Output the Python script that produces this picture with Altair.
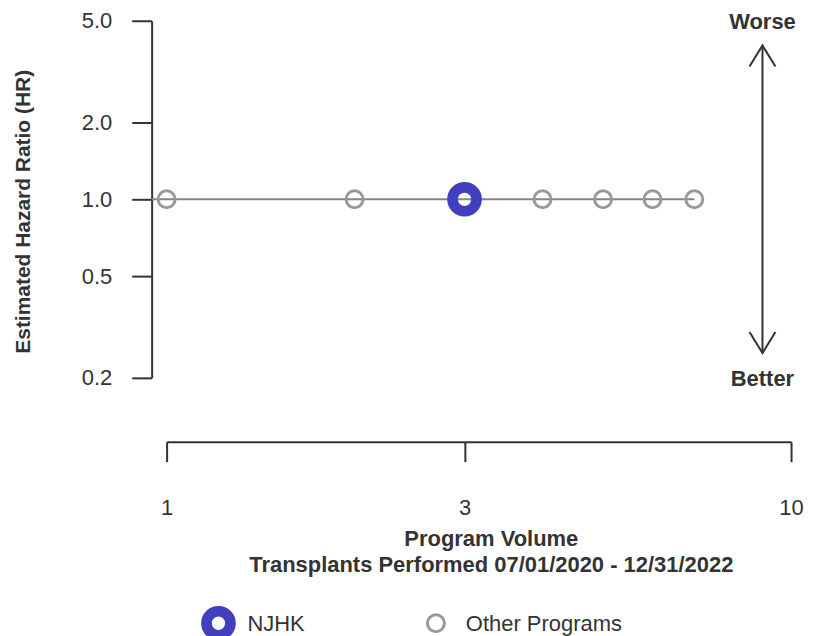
import altair as alt
import pandas as pd

# ---- data ----
other_volume = [1, 2, 4, 5, 6, 7]
other_hr = [1.0, 1.0, 1.0, 1.0, 1.0, 1.0]
njhk_volume = [3]
njhk_hr = [1.0]
program_names = ["NJHK", "Other Programs"]
y_ticks = [0.2, 0.5, 1.0, 2.0, 5.0]
x_ticks = [1, 3, 10]
ref_line_volume = [0.9463, 7]
ref_line_hr = [1.0, 1.0]
arrow_volume = [9]
arrow_hr_top = [4.0]
arrow_hr_bottom = [0.25]
note_text = ["Worse", "Better"]
note_hr = [5.0, 0.2]
note_volume = [9, 9]

BLUE = "#3F3FBF"
GRAY = "#999999"
LINE = "#858585"
DARK = "#333333"
FONT = "Liberation Sans"
FS = 22
SIZES = [576, 289]
STROKES = [10.7, 3]

points = pd.DataFrame({
    "volume": other_volume + njhk_volume,
    "hr": other_hr + njhk_hr,
    "program": ["Other Programs"] * len(other_volume) + ["NJHK"] * len(njhk_volume),
    "order": [0] * len(other_volume) + [1] * len(njhk_volume),
})
line_df = pd.DataFrame({"volume": ref_line_volume, "hr": ref_line_hr})
arrow_df = pd.DataFrame({"volume": arrow_volume, "lo": arrow_hr_bottom, "hi": arrow_hr_top})
notes_df = pd.DataFrame({"volume": note_volume, "hr": note_hr, "text": note_text})

xscale = alt.Scale(type="log", domain=[1, 10], nice=False)
yscale = alt.Scale(type="log", domain=[0.2, 5], nice=False)

common_axis = dict(
    grid=False, domainColor=DARK, tickColor=DARK, domainWidth=2, tickWidth=2,
    labelColor=DARK, titleColor=DARK, labelFont=FONT, titleFont=FONT,
    labelFontSize=FS, titleFontWeight="bold",
    tickSize=20, labelFlush=False, labelOverlap=False,
)
x_axis = alt.Axis(
    values=x_ticks, format="d",
    title=["Program Volume", "Transplants Performed 07/01/2020 - 12/31/2022"],
    offset=64, labelPadding=46, labelBaseline="middle", titleFontSize=FS,
    titleX=325, titleY=87, titleBaseline="top", titleAlign="center", titleLineHeight=26,
    **common_axis,
)
y_axis = alt.Axis(
    values=y_ticks, format=".1f", title="Estimated Hazard Ratio (HR)",
    offset=15, labelPadding=20, titleFontSize=21,
    titleX=-128, titleY=191, titleAngle=-90, titleBaseline="middle", titleAlign="center",
    **common_axis,
)

X = alt.X("volume:Q", scale=xscale, axis=x_axis)
Y = alt.Y("hr:Q", scale=yscale, axis=y_axis)

ref_line = alt.Chart(line_df).mark_line(color=LINE, strokeWidth=2, clip=False).encode(x=X, y=Y)

pts = alt.Chart(points).mark_point(filled=False, opacity=1, clip=False).encode(
    x=X, y=Y,
    color=alt.Color("program:N", scale=alt.Scale(domain=program_names, range=[BLUE, GRAY]), legend=None),
    size=alt.Size("program:N", scale=alt.Scale(domain=program_names, range=SIZES), legend=None),
    strokeWidth=alt.StrokeWidth("program:N", scale=alt.Scale(domain=program_names, range=STROKES), legend=None),
    order=alt.Order("order:Q"),
)

shaft = alt.Chart(arrow_df).mark_rule(color=DARK, strokeWidth=2).encode(
    x=X, y=alt.Y("lo:Q", scale=yscale, axis=y_axis), y2="hi:Q"
)
head_up = alt.Chart(arrow_df).mark_point(
    shape="M-1,1.62L0,0L1,1.62", size=676, filled=False, color=DARK, strokeWidth=2, opacity=1
).encode(x=X, y=alt.Y("hi:Q", scale=yscale, axis=y_axis))
head_down = alt.Chart(arrow_df).mark_point(
    shape="M-1,-1.62L0,0L1,-1.62", size=676, filled=False, color=DARK, strokeWidth=2, opacity=1
).encode(x=X, y=alt.Y("lo:Q", scale=yscale, axis=y_axis))

notes = alt.Chart(notes_df).mark_text(
    font=FONT, fontSize=FS, fontWeight="bold", color=DARK, align="center", baseline="middle", dy=1
).encode(x=X, y=Y, text="text:N")

# ---- legend (drawn as a key below the x axis) ----
legend_df = pd.DataFrame({"program": program_names})
LEG_Y = 604
leg_layers = []
for name, color, size, sw, sx, tx in zip(program_names, [BLUE, GRAY], SIZES, STROKES, [52, 270], [81, 300]):
    one = alt.Chart(legend_df).transform_filter(alt.datum.program == name)
    leg_layers.append(
        one.mark_point(filled=False, opacity=1, color=color, size=size, strokeWidth=sw, clip=False).encode(
            x=alt.value(sx), y=alt.value(LEG_Y)
        )
    )
    leg_layers.append(
        one.mark_text(font=FONT, fontSize=FS, color=DARK, align="left", baseline="middle", dy=1, clip=False).encode(
            x=alt.value(tx), y=alt.value(LEG_Y), text="program:N"
        )
    )

chart = alt.layer(ref_line, pts, shaft, head_up, head_down, notes, *leg_layers).properties(
    width=626, height=358,
    background="white",
    autosize=alt.AutoSizeParams(type="none"),
    padding={"left": 159, "top": 12, "right": 15, "bottom": 260},
).configure_view(strokeWidth=0)

chart.save("out.html", embed_options={"renderer": "svg", "actions": False})
